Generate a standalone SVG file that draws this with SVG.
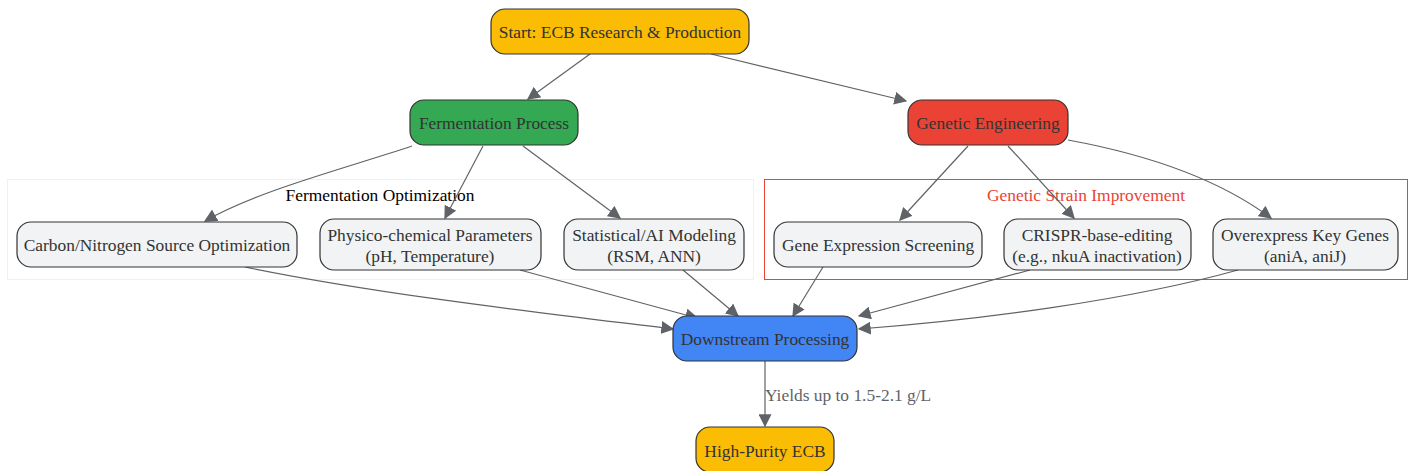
<svg xmlns="http://www.w3.org/2000/svg" width="1413" height="471" viewBox="0 0 1413 471">
<style>
.n{stroke:#333;stroke-width:1.2}
.t{font-family:"Liberation Serif",serif;font-size:17.4px;fill:#333;text-anchor:middle;dominant-baseline:central}
.e{fill:none;stroke:#5f6368;stroke-width:1.2;marker-end:url(#a)}
.lite{fill:#f1f3f4}
</style>
<defs>
<marker id="a" viewBox="0 0 10 10" refX="9" refY="5" markerWidth="13" markerHeight="13" markerUnits="userSpaceOnUse" orient="auto">
<path d="M0,0L10,5L0,10z" fill="#5f6368"/>
</marker>
</defs>
<rect width="1413" height="471" fill="#fff"/>
<g id="cluster_ferm">
<rect x="7.5" y="179.5" width="746" height="100" fill="none" stroke="#eef1f2" stroke-width="1"/>
<text x="380" y="195" class="t" style="fill:#000">Fermentation Optimization</text>
</g>
<g id="cluster_gen">
<rect x="764.5" y="179.5" width="643" height="100" fill="none" stroke="#ea4335" stroke-width="1"/>
<text x="1086" y="195" class="t" style="fill:#ea4335">Genetic Strain Improvement</text>
</g>
<g id="edges">
<path class="e" d="M590,54L528,99"/>
<path class="e" d="M711,54L906,101"/>
<path class="e" d="M412,146C340,170 260,190 205,221"/>
<path class="e" d="M483,146L445,218"/>
<path class="e" d="M523,146L620,218"/>
<path class="e" d="M968,146L900,220"/>
<path class="e" d="M1008,146L1074,218"/>
<path class="e" d="M1068,140C1150,155 1220,180 1271,218"/>
<path class="e" d="M245,267C380,295 560,315 673,329"/>
<path class="e" d="M520,270L697,318"/>
<path class="e" d="M683,270L738,316"/>
<path class="e" d="M823,267L793,316"/>
<path class="e" d="M1030,270L859,316"/>
<path class="e" d="M1238,270C1130,300 980,320 859,329"/>
<path class="e" d="M765,361L765,426"/>
<text x="765" y="395" style="font-family:'Liberation Serif',serif;font-size:17.4px;fill:#5f6368;dominant-baseline:central">Yields up to 1.5-2.1 g/L</text>
</g>
<g id="start">
<rect class="n" x="491" y="9" width="258" height="45" rx="14" fill="#fbbc04"/>
<text class="t" x="620" y="32">Start: ECB Research &amp; Production</text>
</g>
<g id="ferm">
<rect class="n" x="410" y="100" width="168" height="45" rx="14" fill="#34a853"/>
<text class="t" x="494" y="123">Fermentation Process</text>
</g>
<g id="gen">
<rect class="n" x="908" y="100" width="160" height="45" rx="14" fill="#ea4335"/>
<text class="t" x="988" y="123">Genetic Engineering</text>
</g>
<g id="carbon">
<rect class="n lite" x="17" y="222" width="280" height="45" rx="14"/>
<text class="t" x="157" y="245">Carbon/Nitrogen Source Optimization</text>
</g>
<g id="physico">
<rect class="n lite" x="320" y="219" width="221" height="51" rx="14"/>
<text class="t" x="430" y="235">Physico-chemical Parameters</text>
<text class="t" x="430" y="256">(pH, Temperature)</text>
</g>
<g id="stat">
<rect class="n lite" x="564" y="219" width="180" height="51" rx="14"/>
<text class="t" x="654" y="235">Statistical/AI Modeling</text>
<text class="t" x="654" y="256">(RSM, ANN)</text>
</g>
<g id="geneexp">
<rect class="n lite" x="774" y="222" width="208" height="45" rx="14"/>
<text class="t" x="878" y="245">Gene Expression Screening</text>
</g>
<g id="crispr">
<rect class="n lite" x="1004" y="219" width="187" height="51" rx="14"/>
<text class="t" x="1097" y="235">CRISPR-base-editing</text>
<text class="t" x="1097" y="256">(e.g., nkuA inactivation)</text>
</g>
<g id="overexpress">
<rect class="n lite" x="1213" y="219" width="185" height="51" rx="14"/>
<text class="t" x="1305" y="235">Overexpress Key Genes</text>
<text class="t" x="1305" y="256">(aniA, aniJ)</text>
</g>
<g id="downstream">
<rect class="n" x="673" y="316" width="184" height="45" rx="14" fill="#4285f4"/>
<text class="t" x="765" y="339">Downstream Processing</text>
</g>
<g id="highpurity">
<rect class="n" x="696" y="427" width="138" height="45" rx="14" fill="#fbbc04"/>
<text class="t" x="765" y="451">High-Purity ECB</text>
</g>
</svg>
